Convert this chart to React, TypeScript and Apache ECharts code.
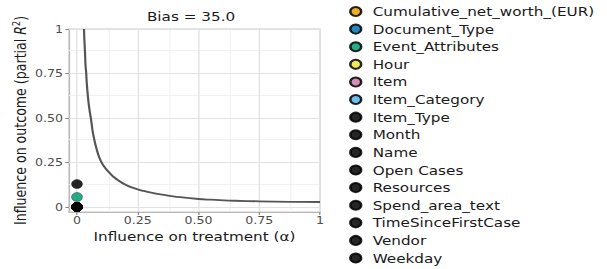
import React, { useEffect, useRef } from "react";
import * as echarts from "echarts";

const seriesNames = [
  "Cumulative_net_worth_(EUR)",
  "Document_Type",
  "Event_Attributes",
  "Hour",
  "Item",
  "Item_Category",
  "Item_Type",
  "Month",
  "Name",
  "Open Cases",
  "Resources",
  "Spend_area_text",
  "TimeSinceFirstCase",
  "Vendor",
  "Weekday",
];
const seriesColors = [
  "#E69F00", "#0072B2", "#009E73", "#F0E442", "#CC79A7", "#56B4E9",
  "#000000", "#000000", "#000000", "#000000", "#000000", "#000000",
  "#000000", "#000000", "#000000",
];
const pointX = [0, 0, 0, 0, 0, 0, 0, 0, 0, 0, 0, 0, 0, 0, 0];
const pointY = [0, 0, 0.056, 0, 0, 0, 0.129, 0, 0, 0, 0, 0, 0, 0, 0];

const curveX = [0.029, 0.03, 0.033, 0.035, 0.038, 0.04, 0.045, 0.05, 0.058, 0.065, 0.071, 0.075, 0.085, 0.09, 0.1, 0.11, 0.125, 0.135, 0.15, 0.175, 0.2, 0.225, 0.25, 0.275, 0.3, 0.35, 0.375, 0.425, 0.5, 0.55, 0.625, 0.65, 0.75, 0.875, 1.0];
const curveY = [1.0, 0.95, 0.87, 0.8, 0.75, 0.7, 0.62, 0.56, 0.49, 0.42, 0.38, 0.355, 0.305, 0.285, 0.253, 0.23, 0.205, 0.19, 0.17, 0.145, 0.125, 0.11, 0.099, 0.09, 0.082, 0.069, 0.064, 0.055, 0.045, 0.041, 0.036, 0.035, 0.032, 0.029, 0.028];

const majorTicks = [0, 0.25, 0.5, 0.75, 1];
const minorTicks = [0.125, 0.375, 0.625, 0.875];
const tickLabels = ["0", "0.25", "0.50", "0.75", "1"];

const titleText = "Bias = 35.0";
const xTitle = "Influence on treatment (\u03b1)";
const yTitle = "Influence on outcome (partial {it|R}{sup|2})";

const STRETCH = 607 / 502;

export default function App() {
  const ref = useRef<HTMLDivElement>(null);
  useEffect(() => {
    if (!ref.current) return;
    const chart = echarts.init(ref.current, undefined, { renderer: "svg" });
    const font = "DejaVu Sans";
    const fmt = (v: number) => {
      const i = majorTicks.findIndex((t) => Math.abs(t - v) < 1e-9);
      return i >= 0 ? tickLabels[i] : "";
    };
    const gridLineData = (axis: "xAxis" | "yAxis", vals: number[], color: string, width: number) =>
      vals.map((v) => ({ [axis]: v, lineStyle: { color, width, type: "solid" } }));
    const option: any = {
      animation: false,
      title: {
        text: titleText,
        left: 158,
        top: 10,
        textAlign: "center",
        padding: 0,
        textStyle: { fontFamily: font, fontSize: 12.6, fontWeight: "normal", color: "#1a1a1a" },
      },
      legend: {
        orient: "vertical",
        left: 288.7,
        top: 4.5,
        height: 300,
        padding: 0,
        itemWidth: 18,
        itemHeight: 9,
        itemGap: 3.61,
        icon: "circle",
        data: seriesNames,
        textStyle: { fontFamily: font, fontSize: 12.6, color: "#1a1a1a", lineHeight: 14 },
      },
      grid: {
        left: 57.06,
        top: 29,
        width: 207.6,
        height: 183,
        show: true,
        borderColor: "#c8c8c8",
        borderWidth: 1,
        backgroundColor: "transparent",
      },
      xAxis: {
        type: "value",
        min: -0.0329,
        max: 1,
        name: xTitle,
        nameLocation: "middle",
        nameGap: 16,
        nameTextStyle: { fontFamily: font, fontSize: 12.6, color: "#1a1a1a" },
        axisLine: { show: true, onZero: false, lineStyle: { color: "#b8b8b8", width: 1 } },
        axisTick: { show: true, length: 3, customValues: majorTicks, lineStyle: { color: "#888" } },
        axisLabel: {
          customValues: majorTicks,
          formatter: fmt,
          margin: 3,
          fontFamily: font,
          fontSize: 10.4,
          color: "#4d4d4d",
        },
        splitLine: { show: false },
      },
      yAxis: {
        type: "value",
        min: -0.0281,
        max: 1,
        name: yTitle,
        nameLocation: "middle",
        nameGap: 33,
        nameTextStyle: {
          fontFamily: font,
          fontSize: 12.6,
          color: "#1a1a1a",
          rich: {
            it: { fontFamily: font, fontSize: 12.6, fontStyle: "italic", color: "#1a1a1a" },
            sup: { fontFamily: font, fontSize: 8, color: "#1a1a1a", verticalAlign: "top", padding: [0, 0, 6, 0] },
          },
        },
        axisLine: { show: true, onZero: false, lineStyle: { color: "#b8b8b8", width: 1 } },
        axisTick: { show: true, length: 3, customValues: majorTicks, lineStyle: { color: "#888" } },
        axisLabel: {
          customValues: majorTicks,
          formatter: fmt,
          margin: 5,
          fontFamily: font,
          fontSize: 10.4,
          color: "#4d4d4d",
        },
        splitLine: { show: false },
      },
      series: [
        {
          type: "line",
          name: "_curve",
          data: curveX.map((x, i) => [x, curveY[i]]),
          smooth: 0.4,
          showSymbol: false,
          symbol: "none",
          z: 3,
          lineStyle: { color: "#555555", width: 1.8 },
          markLine: {
            silent: true,
            z: 1,
            symbol: ["none", "none"],
            label: { show: false },
            data: [
              ...gridLineData("xAxis", minorTicks, "#efefef", 0.8),
              ...gridLineData("yAxis", minorTicks, "#efefef", 0.8),
              ...gridLineData("xAxis", majorTicks, "#e2e2e2", 1.1),
              ...gridLineData("yAxis", majorTicks, "#e2e2e2", 1.1),
            ],
          },
        },
        ...seriesNames.map((n, i) => ({
          type: "scatter",
          name: n,
          data: [[pointX[i], pointY[i]]],
          symbol: "circle",
          symbolSize: 9,
          z: 4,
          itemStyle: { color: seriesColors[i], opacity: 0.85, borderColor: "#000", borderWidth: 0.4 },
        })),
      ],
    };
    chart.setOption(option);
    return () => chart.dispose();
  }, []);
  return (
    <div style={{ position: "fixed", left: 0, top: 0, width: 607, height: 269, overflow: "hidden", background: "#fff" }}>
      <div
        ref={ref}
        style={{ width: 502, height: 269, transform: `scaleX(${STRETCH})`, transformOrigin: "0 0" }}
      />
    </div>
  );
}
